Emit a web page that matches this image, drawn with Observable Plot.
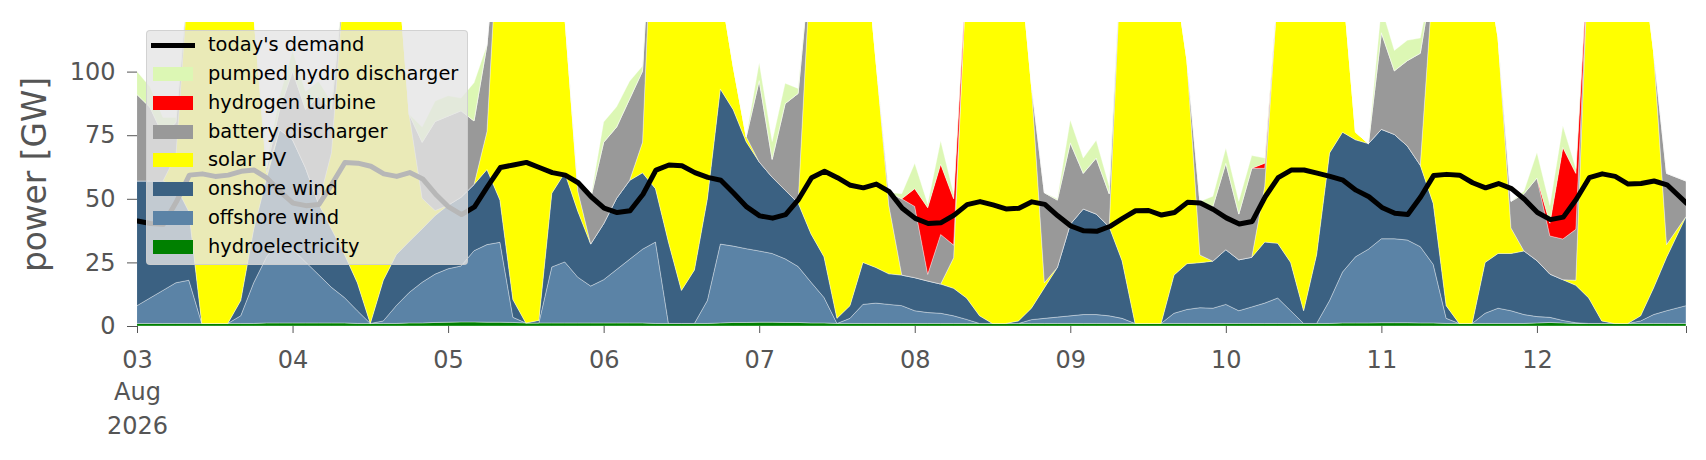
<!DOCTYPE html>
<html>
<head>
<meta charset="utf-8">
<script src="https://cdn.jsdelivr.net/npm/d3@7"></script>
<script src="https://cdn.jsdelivr.net/npm/@observablehq/plot@0.6"></script>
<style>
html,body{margin:0;padding:0;background:#fff;overflow:hidden}
#wrap{position:relative;width:1706px;height:460px;font-family:"DejaVu Sans",sans-serif}
.legend{position:absolute;left:146px;top:30px;width:322px;height:235px;box-sizing:border-box;background:rgba(229,229,229,0.8);border:1px solid rgba(204,204,204,0.8);border-radius:4px}
.row{position:absolute;left:0;height:28px;width:100%}
.sw{position:absolute;left:6px;width:40px;height:14px;top:7px}
.ln{position:absolute;left:4px;width:44px;height:5px;top:11.5px;background:#000}
.lbl{position:absolute;left:61px;top:0;line-height:28px;font-size:19.4px;color:#000;white-space:nowrap}
</style>
</head>
<body>
<div id="wrap"></div>
<script>
// ---------- data (2-hourly samples, Aug 3 00:00 .. Aug 12 23:00, 2026) ----------
const startMs = Date.UTC(2026, 7, 3, 0);
const hourOffsets = d3.range(0, 237, 2).concat([239]);

const seriesNames = ["hydroelectricity", "offshore wind", "onshore wind", "solar PV",
  "battery discharger", "hydrogen turbine", "pumped hydro discharger"];
const seriesColors = ["#008000", "#5b83a6", "#3b6182", "#ffff00", "#999999", "#ff0000", "#dcf7b4"];

const hydroelectricity = [
  1,1,1,1,1,1,1,1,1,1,1.2,1.2,
  1.2,1.2,1.2,1.2,1.2,1,1,1,1,1.2,1.2,1.4,
  1.5,1.6,1.6,1.5,1.5,1.4,1.2,1.2,1.2,1.2,1.2,1.2,
  1.2,1.2,1.2,1.2,1,1,1,1,1,1.2,1.4,1.4,
  1.5,1.5,1.4,1.4,1.2,1.2,1,1,1,1,1,1,
  1,1,1,1,1,1,1,1,1,1,1,1,
  1,1,1,1,1,1,1,1,1,1,1,1,
  1,1,1,1,1,1,1,1,1,1.2,1.2,1.2,
  1.3,1.3,1.3,1.2,1.2,1,1,1,1,1,1,1,
  1.2,1.4,1.2,1,1,1,1,1,1,1,1,1];

const offshoreWind = [
  7,10,13,16,17,0,0,0,3,16,26,32,
  29,24,19,14,10,5,0,1,7,12,16,19,
  21,22,28,30.5,31.4,2,0,0,22,24,18,14.5,
  17,21,25,29,32,0,0,0,9,31,30,29,
  28,27,25,22,16,10,0,2,7.5,8,7.5,7,
  5,4.3,4,3,1.6,0,0,0,0,1.5,2,2.5,
  3,3.5,3.5,3,2,0,0,0,4,5.5,6.2,6,
  7.5,5,6.5,8,10,5,0,0,9,20,26,29,
  33,33,32.5,30,23,2,0,0,4,6,5,3.5,
  2.5,2,1,0.3,0,0,0,0,1,3.5,5,7];

const onshoreWind = [
  49,46,43,38,27,0,0,0,6,21,31,44,
  43,37,28,23,17,11,0,16,20,20,21,23,
  25,27,26,29.5,16.6,7,0,1,29,35,26,16.5,
  22,28,31,30,21,32,13,21,40,61,53.6,42,
  35,30,27,25,19,16,2,5,16.5,14,12,12,
  13,12.4,11.5,10.8,8.4,3,0,0,1,4.5,12,19.5,
  36,41.5,39.5,35,22.6,0,0,0,15,18,17.7,18.5,
  21.5,20,19.5,24,21.5,19,5,27,58,55,46,41.5,
  43,41,37,32,24,5,0,0,20,21.5,22.5,25,
  22,17,16,14.7,10,1,0,0,2,10.5,21,35];

const solarPV = [
  0,0,0,12,95,164,169,164,140,85,2,0,
  0,0,0,30,110,143,164,142,122,50,12,2,
  0,0,0,15,120,150,160,158,110,62,8,0,
  0,0,0,12,140,150,156,138,100,40,17,2,
  0,0,0,0,110,138,162,152,135,82,27,0,
  0,0,0,12,130,156,164,164,148,88,2,0,
  0,0,0,0,130,164,164,159,120,80,3,0,
  0,0,0,22,100,145,164,137,97,60,3,0,
  0,0,0,0,90,162,169,164,120,85,10,0,
  0,0,0,2,140,163,169,164,146,93,5,0];

const batteryDischarger = [
  34,29,18,13,0,0,0,0,0,0,2,8,
  27,23,42,17,0,0,0,0,0,0,22,35,
  35,34,25,34,0,0,0,0,0,0,2,18,
  32,28,32,28,0,0,0,0,0,0,0,0,
  32,7,34,43,0,0,0,0,0,0,5,30,
  28,2.6,19.5,5,0,0,0,0,0,0,35.4,26.5,
  32,14,22,13,0,0,0,0,0,0,21,21.5,
  34,18,35,7,0,0,0,0,0,0,0,0,
  38,25,33.5,44,0,0,0,0,0,0,10.5,22.5,
  32.5,15,16,20,0,0,0,0,0,0,28,14];

const hydrogenTurbine = [
  0,0,0,0,0,0,0,0,0,0,0,0,
  0,0,0,0,0,0,0,0,0,0,0,0,
  0,0,0,0,0,0,0,0,0,0,0,0,
  0,0,0,0,0,0,0,0,0,0,0,0,
  0,0,0,0,0,0,0,0,0,0,0,0,
  7,26.2,27.6,18.2,0,0,0,0,0,0,0,0,
  0,0,0,0,0,0,0,0,0,0,0,0,
  0,0,0,2,0,0,0,0,0,0,0,0,
  0,0,0,0,0,0,0,0,0,0,0,0,
  0,5,36,22,0,0,0,0,0,0,0,0];

const pumpedHydro = [
  9,8,7,2,0,0,0,0,0,0,2,5,
  8,7,6,3,0,0,0,0,0,0,6,8,
  8,5,15,0,0,0,0,0,0,0,0,0,
  8,8,7,2,0,0,0,0,0,0,0,0,
  7,7,8,2,0,0,0,0,0,0,0,2,
  10,1.5,9.2,2,0,0,0,0,0,0,0,0.5,
  9,6,7,3,0,0,0,0,0,0,0,4,
  6,5,5,2,0,0,0,0,0,0,0,0,
  10,8,8,6,0,0,0,0,0,0,0,1,
  10,7,8.5,2,0,0,0,0,0,0,0,0];

const demand = [
  41.5,40.5,40.2,49,59.5,60,59,59.5,61,61.5,58.3,53,
  48.5,47.5,48,56,64.5,64.2,63,60,59,60.5,58,52,
  47,44,47,55,62.5,63.5,64.5,62.5,60.5,59.5,56.5,51,
  46.5,44.8,45.5,52,61.5,63.5,63.2,60.5,58.6,57.5,52.4,47,
  43.5,42.6,44,50,58.5,61,58.5,55.5,54.5,56,53,46.5,
  42.5,40.5,40.8,43.8,47.9,49.1,47.8,46.2,46.5,49,48,43.5,
  39.5,37.6,37.4,39.3,42.5,45.5,45.6,43.8,44.8,48.8,48.5,46,
  42.7,40.3,41.3,51,58.5,61.5,61.5,60.3,59,57.5,53.6,51,
  46.8,44.5,44,51,59.4,59.8,59.5,56.5,54.5,56.2,54.2,50,
  44.8,42,43,50,58.5,60,59,56,56.2,57.2,55.7,48.5];

const tickLabels = ["03","04","05","06","07","08","09","10","11","12",""];
const yTicks = [0, 25, 50, 75, 100];
const legendEntries = [
  ["today's demand", "line", "#000"],
  ["pumped hydro discharger", "patch", "#dcf7b4"],
  ["hydrogen turbine", "patch", "#ff0000"],
  ["battery discharger", "patch", "#999999"],
  ["solar PV", "patch", "#ffff00"],
  ["onshore wind", "patch", "#3b6182"],
  ["offshore wind", "patch", "#5b83a6"],
  ["hydroelectricity", "patch", "#008000"]
];

// ---------- build tables ----------
const dates = hourOffsets.map(h => new Date(startMs + h * 3600e3));
const seriesValues = [hydroelectricity, offshoreWind, onshoreWind, solarPV,
  batteryDischarger, hydrogenTurbine, pumpedHydro];
const rows = [];
seriesNames.forEach((name, k) => {
  seriesValues[k].forEach((v, i) => rows.push({date: dates[i], series: name, value: v}));
});
const demandRows = demand.map((v, i) => ({date: dates[i], value: v}));
const tickDates = d3.range(0, 10).map(d => new Date(startMs + d * 86400e3))
  .concat([new Date(startMs + 239 * 3600e3)]);
const fmtTick = d => {
  const i = tickDates.findIndex(t => +t === +d);
  return i >= 0 ? tickLabels[i] : "";
};

const chart = Plot.plot({
  width: 1706,
  height: 460,
  marginLeft: 137,
  marginRight: 20,
  marginTop: 22,
  marginBottom: 134,
  style: {fontFamily: "DejaVu Sans", fontSize: "24px", color: "#555", background: "transparent", overflow: "visible"},
  x: {type: "utc", domain: [dates[0], dates[dates.length - 1]], ticks: tickDates, tickFormat: fmtTick,
      tickSize: 7, tickPadding: 17, label: null},
  y: {domain: [0, 119.5], ticks: yTicks, tickSize: 10, tickPadding: 12, label: null},
  color: {domain: seriesNames, range: seriesColors},
  marks: [
    Plot.areaY(rows, {x: "date", y: "value", fill: "series", order: seriesNames,
      stroke: "#ffffff", strokeWidth: 0.7, strokeOpacity: 0.5, clip: true}),
    Plot.line(demandRows, {x: "date", y: "value", stroke: "#000", strokeWidth: 5,
      strokeLinejoin: "round", clip: true}),
    Plot.text([tickDates[0]], {x: d => d, frameAnchor: "bottom", dy: 66.3, text: () => "Aug",
      fontSize: 24, fill: "#555", textAnchor: "middle", lineAnchor: "middle"}),
    Plot.text([tickDates[0]], {x: d => d, frameAnchor: "bottom", dy: 99.6, text: () => "2026",
      fontSize: 24, fill: "#555", textAnchor: "middle", lineAnchor: "middle"}),
    Plot.text([0], {frameAnchor: "left", dx: -102.5, rotate: -90, text: () => "power [GW]",
      fontSize: 32.8, fill: "#555", textAnchor: "middle", lineAnchor: "middle"})
  ]
});
const wrap = document.getElementById("wrap");
wrap.appendChild(chart);

// ---------- legend overlay ----------
const centers = [45, 74.2, 103, 131.7, 160.3, 189.2, 217.7, 246.7];
const legend = document.createElement("div");
legend.className = "legend";
legendEntries.forEach(([label, kind, color], i) => {
  const row = document.createElement("div");
  row.className = "row";
  row.style.top = (centers[i] - 31 - 14) + "px";
  const sw = document.createElement("div");
  sw.className = kind === "line" ? "ln" : "sw";
  sw.style.background = color;
  const tx = document.createElement("div");
  tx.className = "lbl";
  tx.textContent = label;
  row.appendChild(sw);
  row.appendChild(tx);
  legend.appendChild(row);
});
wrap.appendChild(legend);
</script>
</body>
</html>
